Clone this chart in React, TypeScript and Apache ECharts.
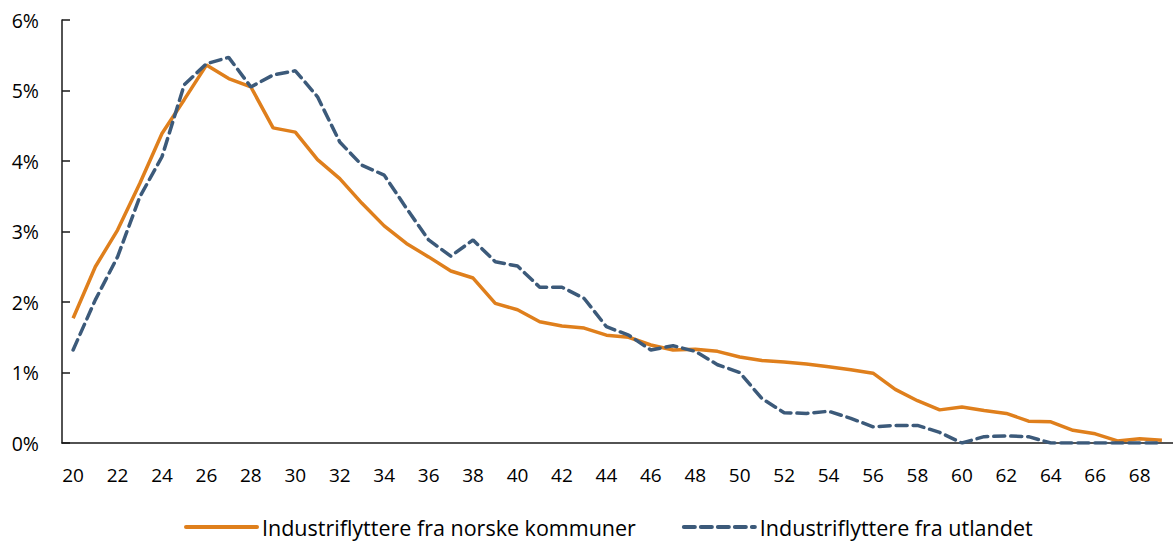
import React, { useEffect, useRef } from "react";
import * as echarts from "echarts";

const ages: string[] = [];
for (let a = 20; a <= 69; a++) ages.push(String(a));

const yTicks = [0, 1, 2, 3, 4, 5, 6];

const norske = [
  1.77, 2.5, 3.02, 3.68, 4.39, 4.87, 5.36, 5.17, 5.05, 4.47,
  4.41, 4.02, 3.75, 3.4, 3.08, 2.83, 2.64, 2.44, 2.34, 1.98,
  1.89, 1.72, 1.66, 1.63, 1.53, 1.5, 1.39, 1.32, 1.33, 1.3,
  1.22, 1.17, 1.15, 1.12, 1.08, 1.04, 0.99, 0.76, 0.6, 0.47,
  0.51, 0.46, 0.42, 0.31, 0.3, 0.18, 0.13, 0.03, 0.06, 0.04,
];

const utlandet = [
  1.32, 2.03, 2.64, 3.49, 4.06, 5.08, 5.38, 5.47, 5.05, 5.22,
  5.28, 4.91, 4.27, 3.94, 3.8, 3.33, 2.88, 2.65, 2.88, 2.57,
  2.51, 2.21, 2.21, 2.05, 1.65, 1.53, 1.32, 1.38, 1.3, 1.11,
  1.0, 0.63, 0.43, 0.42, 0.45, 0.35, 0.23, 0.25, 0.25, 0.15,
  0.0, 0.09, 0.1, 0.09, 0.0, 0.0, 0.0, 0.0, 0.0, 0.0,
];

const seriesNames = ["Industriflyttere fra norske kommuner", "Industriflyttere fra utlandet"];

export default function App() {
  const ref = useRef<HTMLDivElement>(null);
  useEffect(() => {
    document.body.style.margin = "0";
    const chart = echarts.init(ref.current!, null, { renderer: "svg" });
    const font = "'Open Sans', sans-serif";
    chart.setOption({
      animation: false,
      textStyle: { fontFamily: font },
      grid: { left: 62, right: 0, top: 20, bottom: 100, containLabel: false },
      legend: {
        top: 511,
        left: 179,
        itemWidth: 71,
        itemHeight: 14,
        itemGap: 46,
        textStyle: { fontSize: 21.5, color: "#000", fontFamily: font },
        itemStyle: { opacity: 0 },
        lineStyle: { width: 4, cap: "round" },
        data: seriesNames.map((n) => ({ name: n })),
      },
      xAxis: {
        type: "category",
        data: ages,
        boundaryGap: true,
        axisLine: { lineStyle: { color: "#1a1a1a", width: 1.5 } },
        axisTick: { show: false },
        axisLabel: { interval: 1, fontSize: 19, color: "#000", margin: 22, fontFamily: font },
      },
      yAxis: {
        type: "value",
        min: yTicks[0],
        max: yTicks[yTicks.length - 1],
        interval: 1,
        splitLine: { show: false },
        axisLine: { show: true, lineStyle: { color: "#1a1a1a", width: 1.5 } },
        axisTick: { show: true, inside: true, length: 8, lineStyle: { color: "#1a1a1a", width: 1.5 } },
        axisLabel: { formatter: "{value}%", fontSize: 19.5, color: "#000", margin: 23, fontFamily: font },
      },
      series: [
        {
          name: seriesNames[0],
          type: "line",
          data: norske,
          symbol: "none",
          lineStyle: { color: "#DF7F1C", width: 3.5 },
          itemStyle: { color: "#DF7F1C" },
        },
        {
          name: seriesNames[1],
          type: "line",
          data: utlandet,
          symbol: "none",
          lineStyle: { color: "#3C5A7A", width: 3.5, type: [11, 6], cap: "round" },
          itemStyle: { color: "#3C5A7A" },
        },
      ],
    });
    return () => chart.dispose();
  }, []);
  return <div ref={ref} style={{ width: 1173, height: 543 }} />;
}
